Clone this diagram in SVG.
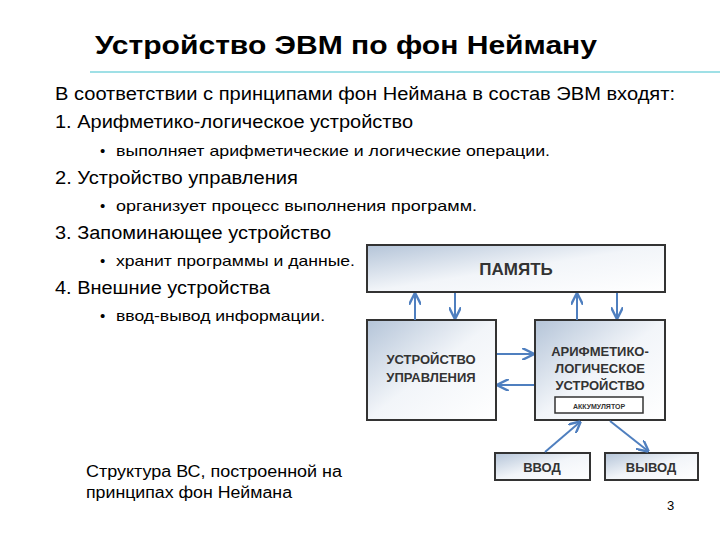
<svg xmlns="http://www.w3.org/2000/svg" width="720" height="540" viewBox="0 0 720 540">
<defs>
<linearGradient id="g" x1="0" y1="0" x2="1" y2="1"><stop offset="0" stop-color="#b4c4d8"/><stop offset="0.5" stop-color="#f2f5f9"/><stop offset="1" stop-color="#ffffff"/></linearGradient>
<marker id="a" viewBox="0 0 10 10" refX="9" refY="5" markerWidth="6" markerHeight="6" orient="auto"><path d="M0,0 L10,5 L0,10" fill="none" stroke="#4f7fbf" stroke-width="2"/></marker>
<style>
text{font-family:"Liberation Sans",Arial,sans-serif;fill:#000}
.b{fill:url(#g);stroke:#333;stroke-width:2}
.bl{font-weight:bold;fill:#333;text-anchor:middle}
.c{stroke:#4f7fbf;stroke-width:2;fill:none;marker-end:url(#a)}
</style>
</defs>
<text x="95" y="54" font-size="26" font-weight="bold" textLength="502" lengthAdjust="spacingAndGlyphs">Устройство ЭВМ по фон Нейману</text>
<line x1="90" y1="72" x2="720" y2="72" stroke="#9fe0e6" stroke-width="2"/>
<text x="55" y="100" font-size="18" textLength="620" lengthAdjust="spacingAndGlyphs">В соответствии с принципами фон Неймана в состав ЭВМ входят:</text>
<text x="55" y="128" font-size="18" textLength="358" lengthAdjust="spacingAndGlyphs">1. Арифметико-логическое устройство</text>
<text x="100" y="156" font-size="15">•</text><text x="116" y="156" font-size="15" textLength="434" lengthAdjust="spacingAndGlyphs">выполняет арифметические и логические операции.</text>
<text x="55" y="184" font-size="18" textLength="243" lengthAdjust="spacingAndGlyphs">2. Устройство управления</text>
<text x="100" y="211" font-size="15">•</text><text x="116" y="211" font-size="15" textLength="361" lengthAdjust="spacingAndGlyphs">организует процесс выполнения программ.</text>
<text x="55" y="239" font-size="18" textLength="276" lengthAdjust="spacingAndGlyphs">3. Запоминающее устройство</text>
<text x="100" y="266" font-size="15">•</text><text x="116" y="266" font-size="15" textLength="239" lengthAdjust="spacingAndGlyphs">хранит программы и данные.</text>
<text x="55" y="294" font-size="18" textLength="215" lengthAdjust="spacingAndGlyphs">4. Внешние устройства</text>
<text x="100" y="321" font-size="15">•</text><text x="116" y="321" font-size="15" textLength="209" lengthAdjust="spacingAndGlyphs">ввод-вывод информации.</text>
<text x="86" y="477" font-size="16" textLength="256" lengthAdjust="spacingAndGlyphs">Структура ВС, построенной на</text>
<text x="86" y="498" font-size="16" textLength="206" lengthAdjust="spacingAndGlyphs">принципах фон Неймана</text>
<text x="667" y="510" font-size="13">3</text>
<g id="mem"><rect class="b" x="367" y="245" width="298" height="47"/><text class="bl" x="516" y="275" font-size="17">ПАМЯТЬ</text></g>
<g id="uu"><rect class="b" x="367" y="320" width="129" height="100"/><text class="bl" x="431" y="364" font-size="13">УСТРОЙСТВО</text><text class="bl" x="431" y="382" font-size="13">УПРАВЛЕНИЯ</text></g>
<g id="alu"><rect class="b" x="535" y="320" width="130" height="100"/><text class="bl" x="600" y="356" font-size="13">АРИФМЕТИКО-</text><text class="bl" x="600" y="373" font-size="13">ЛОГИЧЕСКОЕ</text><text class="bl" x="600" y="390" font-size="13">УСТРОЙСТВО</text></g>
<g id="acc"><rect x="555" y="397" width="88" height="16" fill="#fff" stroke="#333" stroke-width="1.5"/><text class="bl" x="599" y="409" font-size="7" font-weight="normal">АККУМУЛЯТОР</text></g>
<g id="in"><rect class="b" x="495" y="453" width="95" height="27"/><text class="bl" x="542" y="472" font-size="13">ВВОД</text></g>
<g id="out"><rect class="b" x="605" y="453" width="93" height="27"/><text class="bl" x="651" y="472" font-size="13">ВЫВОД</text></g>
<g id="connectors">
<line class="c" x1="415" y1="320" x2="415" y2="294"/>
<line class="c" x1="455" y1="293" x2="455" y2="318"/>
<line class="c" x1="577" y1="320" x2="577" y2="294"/>
<line class="c" x1="617" y1="293" x2="617" y2="318"/>
<line class="c" x1="497" y1="354" x2="533" y2="354"/>
<line class="c" x1="534" y1="385" x2="498" y2="385"/>
<line class="c" x1="545" y1="452" x2="580" y2="422"/>
<line class="c" x1="610" y1="421" x2="648" y2="451"/>
</g>
</svg>
